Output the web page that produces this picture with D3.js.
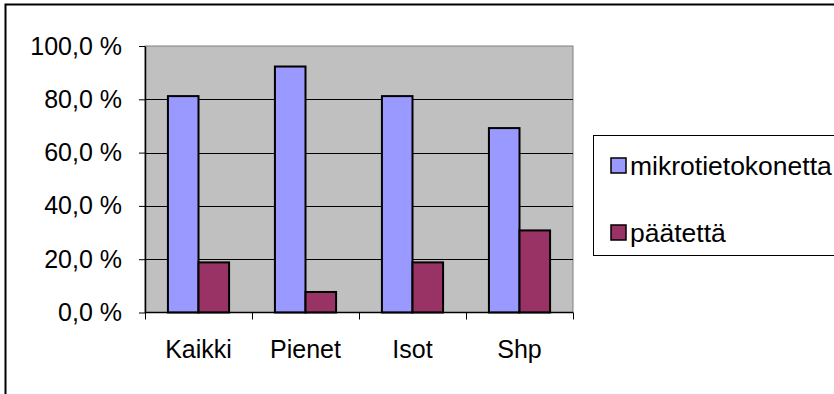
<!DOCTYPE html>
<html>
<head>
<meta charset="utf-8">
<script src="https://cdn.jsdelivr.net/npm/d3@7"></script>
<style>
  html, body { margin: 0; padding: 0; background: #ffffff; }
  svg { display: block; }
  text { font-family: "Liberation Sans", Arial, sans-serif; fill: #000; }
</style>
</head>
<body>
<svg id="chart" width="834" height="394"></svg>
<script>
// Categories, series and tick values
const categories = ["Kaikki", "Pienet", "Isot", "Shp"];
const seriesNames = ["mikrotietokonetta", "päätettä"];
const mikrotietokonetta = [0.812, 0.923, 0.812, 0.692];
const paatetta = [0.188, 0.077, 0.188, 0.308];
const yTicks = [0, 0.2, 0.4, 0.6, 0.8, 1.0];
const seriesColors = ["#9999FF", "#993366"];

const seriesValues = [mikrotietokonetta, paatetta];

const svg = d3.select("#chart");
const W = 834, H = 394;

// Chart area frame
svg.append("rect")
  .attr("x", 5.5).attr("y", 4.5)
  .attr("width", W + 10).attr("height", H + 10)
  .attr("fill", "#fff").attr("stroke", "#000").attr("stroke-width", 2);

const plot = { left: 145, right: 573, top: 46, bottom: 312.5 };

const y = d3.scaleLinear().domain([0, 1]).range([plot.bottom, plot.top]);
const x0 = d3.scaleBand().domain(categories).range([plot.left, plot.right]).padding(0);

// gap width 150%: two bars + 1.5 bar widths per category
const barW = x0.bandwidth() / 3.5;
const x1 = d3.scaleBand().domain(seriesNames)
  .range([barW * 0.75, barW * 2.75]).padding(0);

const fiLocale = d3.formatLocale({ decimal: ",", thousands: " ", grouping: [3], currency: ["", " €"] });
const pct = v => fiLocale.format(".1f")(v * 100) + " %";

// Plot background
svg.append("rect")
  .attr("x", plot.left).attr("y", plot.top)
  .attr("width", plot.right - plot.left).attr("height", plot.bottom - plot.top)
  .attr("fill", "#C0C0C0").attr("stroke", "#808080").attr("stroke-width", 1);

// Horizontal gridlines
svg.append("g").selectAll("line")
  .data(yTicks.filter(t => t > 0 && t < 1))
  .join("line")
  .attr("x1", plot.left).attr("x2", plot.right)
  .attr("y1", d => Math.round(y(d)) + 0.5).attr("y2", d => Math.round(y(d)) + 0.5)
  .attr("stroke", "#000").attr("stroke-width", 1);

// Bars
const groups = svg.append("g").selectAll("g")
  .data(categories)
  .join("g")
  .attr("transform", d => `translate(${x0(d)},0)`);

groups.selectAll("rect")
  .data((c, i) => seriesNames.map((s, j) => ({ s, j, v: seriesValues[j][i] })))
  .join("rect")
  .attr("x", d => x1(d.s))
  .attr("width", x1.bandwidth())
  .attr("y", d => y(d.v))
  .attr("height", d => y(0) - y(d.v))
  .attr("fill", d => seriesColors[d.j])
  .attr("stroke", "#000").attr("stroke-width", 2);

// Y axis
const yAxis = svg.append("g")
  .attr("transform", `translate(${plot.left},0)`)
  .call(d3.axisLeft(y).tickValues(yTicks).tickFormat(pct).tickSizeInner(6).tickSizeOuter(0).tickPadding(17));
yAxis.select(".domain").attr("stroke", "#000").attr("stroke-width", 1.5);
yAxis.selectAll(".tick line").attr("stroke", "#000");
yAxis.selectAll("text").attr("font-size", 25).attr("fill", "#000")
  .attr("font-family", "'Liberation Sans', Arial, sans-serif");

// X axis with ticks at category boundaries
const xAxisG = svg.append("g");
xAxisG.append("line")
  .attr("x1", plot.left).attr("x2", plot.right)
  .attr("y1", plot.bottom).attr("y2", plot.bottom)
  .attr("stroke", "#000").attr("stroke-width", 1.5);
const bounds = categories.map(c => x0(c)).concat([x0(categories[categories.length - 1]) + x0.bandwidth()]);
xAxisG.selectAll("line.tk")
  .data(bounds)
  .join("line").attr("class", "tk")
  .attr("x1", d => Math.round(d) + 0.5).attr("x2", d => Math.round(d) + 0.5)
  .attr("y1", plot.bottom).attr("y2", plot.bottom + 7)
  .attr("stroke", "#000");
xAxisG.selectAll("text")
  .data(categories)
  .join("text")
  .attr("x", d => x0(d) + x0.bandwidth() / 2)
  .attr("y", 358)
  .attr("text-anchor", "middle")
  .attr("font-size", 25)
  .text(d => d);

// Legend
const legend = svg.append("g");
legend.append("rect")
  .attr("x", 593.5).attr("y", 135.5)
  .attr("width", 260).attr("height", 120)
  .attr("fill", "#fff").attr("stroke", "#000").attr("stroke-width", 1);
const items = legend.selectAll("g.item")
  .data(seriesNames)
  .join("g").attr("class", "item")
  .attr("transform", (d, i) => `translate(0,${166 + i * 67})`);
items.append("rect")
  .attr("x", 611).attr("y", -8)
  .attr("width", 15).attr("height", 15)
  .attr("fill", (d, i) => seriesColors[i])
  .attr("stroke", "#000").attr("stroke-width", 1.5);
items.append("text")
  .attr("x", 630).attr("y", 9)
  .attr("font-size", 26.5)
  .text(d => d);
</script>
</body>
</html>
